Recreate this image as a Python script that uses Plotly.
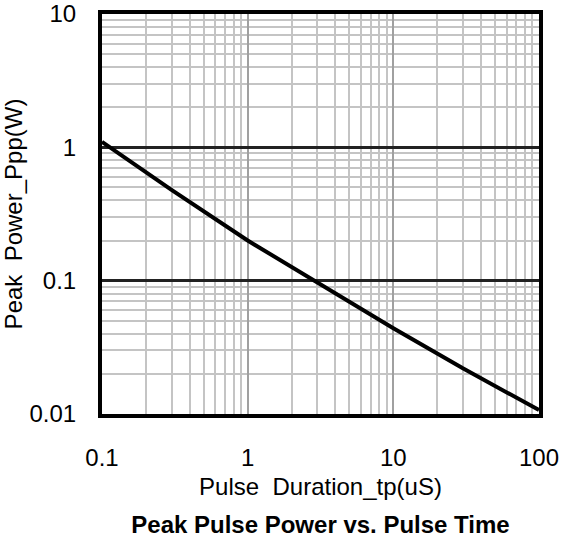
import plotly.graph_objects as go

pulse_duration_us = [0.1, 0.3, 1, 3, 10, 30, 100]
peak_power_w = [1.1, 0.48, 0.2, 0.097, 0.044, 0.022, 0.0107]

x_tick_vals = [0.1, 1, 10, 100]
x_tick_text = ["0.1", "1", "10", "100"]
y_tick_vals = [0.01, 0.1, 1, 10]
y_tick_text = ["0.01", "0.1", "1", "10"]

FONT = "Liberation Sans, Arial, sans-serif"
FS = 24

fig = go.Figure()
fig.add_trace(go.Scatter(
    x=pulse_duration_us, y=peak_power_w, mode="lines",
    line=dict(color="black", width=4), showlegend=False, hoverinfo="skip",
))

W, H = 563, 544
fig.update_layout(
    width=W, height=H,
    margin=dict(l=102, r=24, t=14, b=130),
    paper_bgcolor="white", plot_bgcolor="white",
    font=dict(family=FONT, size=FS, color="black"),
    title=dict(text="<b>Peak Pulse Power vs. Pulse Time</b>",
               x=(102 + 539) / 2 / W, xanchor="center",
               y=1 - 525 / H, yanchor="middle", yref="container",
               font=dict(family=FONT, size=FS, color="black")),
)

fig.update_xaxes(
    type="log", range=[-1, 2], automargin=False,
    tickvals=x_tick_vals, ticktext=x_tick_text,
    ticks="", ticklabelstandoff=19, ticklabeloverflow="allow",
    showgrid=True, gridcolor="#a0a0a0", gridwidth=2,
    minor=dict(dtick="D1", showgrid=True, gridcolor="#c4c4c4", gridwidth=2, ticks=""),
    showline=True, linecolor="black", linewidth=4, mirror=True,
    zeroline=False,
    title=dict(text="Pulse\u00a0\u00a0Duration_tp(uS)", standoff=9,
               font=dict(family=FONT, size=FS)),
)
fig.update_yaxes(
    type="log", range=[-2, 1], automargin=False,
    tickvals=y_tick_vals, ticktext=y_tick_text,
    ticks="", ticklabelstandoff=17, ticklabeloverflow="allow",
    showgrid=True, gridcolor="#222222", gridwidth=2.5,
    minor=dict(dtick="D1", showgrid=True, gridcolor="#c4c4c4", gridwidth=2, ticks=""),
    showline=True, linecolor="black", linewidth=4, mirror=True,
    zeroline=False,
    title=dict(text="Peak\u00a0\u00a0Power_Ppp(W)", standoff=1,
               font=dict(family=FONT, size=FS)),
)

# remove the page's default body margin so the figure fills the window
fig.write_html("out.html", config={"displayModeBar": False},
               post_script="document.body.style.margin='0px';")
